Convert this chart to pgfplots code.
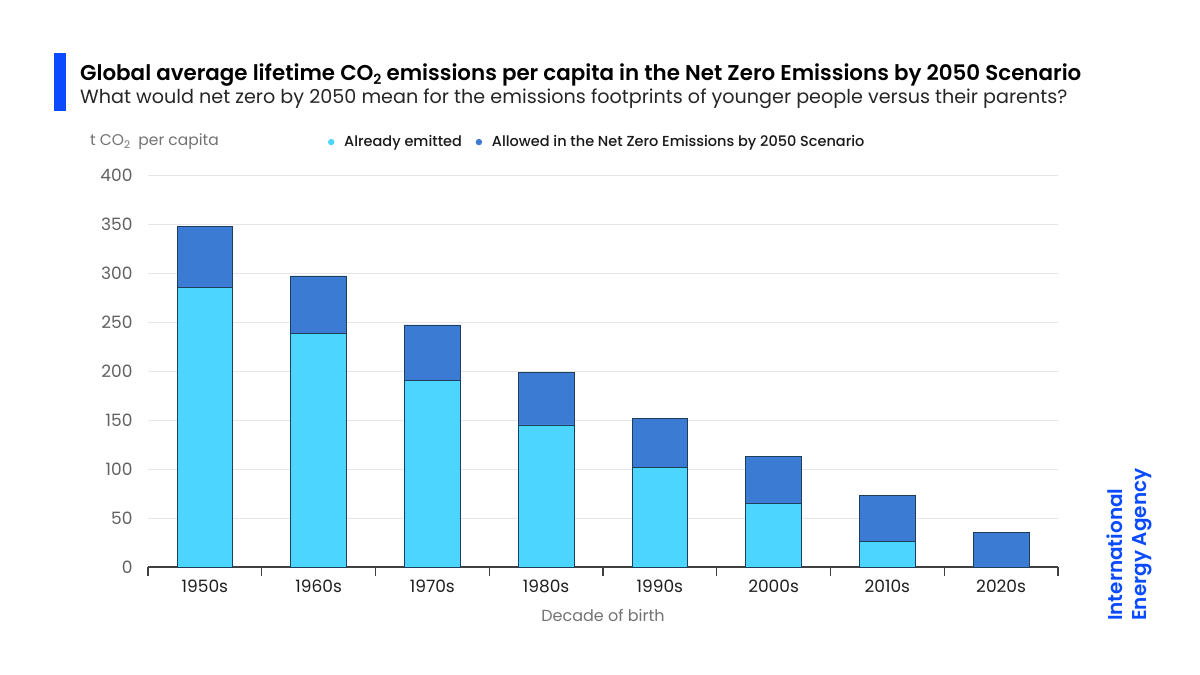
\documentclass[border=0pt]{standalone}
\usepackage{fontspec}
\setmainfont{Poppins}
\newfontfamily\medfont{Poppins Medium}
\newfontfamily\semifont{Poppins SemiBold}
\usepackage{pgfplots}
\pgfplotsset{compat=1.18}
\definecolor{lightb}{HTML}{4BD5FF}
\definecolor{darkb}{HTML}{3C7BD3}
\definecolor{edgec}{HTML}{1E3F5C}
\definecolor{ieablue}{HTML}{0A4BFF}
\definecolor{gridc}{HTML}{E6E6E6}
\newcommand{\fs}[1]{\fontsize{#1}{#1}\selectfont}
\newcommand{\subtwo}[1]{\raisebox{-0.3ex}{\fs{#1}2}}
\begin{document}
\begin{tikzpicture}[x=1pt,y=1pt]
\fill[white] (0,0) rectangle (1200,675);
\useasboundingbox (0,0) rectangle (1200,675);
% title bar
\fill[ieablue] (54,622) rectangle (66,564);
\node[anchor=base west, inner sep=0pt, text=black] at (80,594) {\fs{21.4}\semifont Global average lifetime CO\subtwo{14} emissions per capita in the Net Zero Emissions by 2050 Scenario};
\node[anchor=base west, inner sep=0pt, text=black!85] at (80,571) {\fs{19.15}What would net zero by 2050 mean for the emissions footprints of younger people versus their parents?};
\node[anchor=west, inner sep=0pt, text=black!55] at (90,533) {\fs{15.5}t CO\subtwo{10.5}\ \ per capita};
\node[anchor=center, inner sep=0pt, text=black!55] at (603,60) {\fs{16}Decade of birth};
% logo
\node[rotate=90, anchor=base west, inner sep=0pt, text=ieablue] at (1122,54) {\fs{20}\semifont International};
\node[rotate=90, anchor=base west, inner sep=0pt, text=ieablue] at (1146,54) {\fs{20}\semifont Energy Agency};
\begin{axis}[
  at={(148pt,108pt)}, anchor=south west,
  scale only axis, width=910pt, height=392pt,
  ybar stacked, bar width=0.49,
  xmin=-0.5, xmax=7.5, ymin=0, ymax=400,
  xtick={0,...,7},
  xticklabels={1950s,1960s,1970s,1980s,1990s,2000s,2010s,2020s},
  minor xtick={-0.5,0.5,...,7.5},
  ytick={0,50,...,400},
  axis x line*=bottom, axis y line*=left,
  y axis line style={draw=none},
  x axis line style={draw=black!75, line width=1.3pt, -},
  major tick length=0pt,
  minor tick length=9pt,
  tick align=outside,
  minor x tick style={draw=black!75, line width=1.2pt},
  ymajorgrids, grid style={gridc, line width=0.9pt},
  /pgf/number format/assume math mode=true,
  yticklabel style={font=\fs{17}, text=black!62, anchor=east, xshift=-12pt},
  xticklabel style={font=\fs{17}, text=black!88, yshift=-9pt},
  legend style={at={(0.1956,1.084)}, anchor=west, draw=none, fill=none,
     legend columns=2, font=\fs{14.5}\medfont, text=black!90,
     /tikz/every even column/.append style={column sep=10pt},
     inner sep=0pt},
  legend image code/.code={\path[draw=none,fill=none] (0pt,0pt) -- (16pt,0pt); \fill[#1,draw=none] (5pt,0pt) circle (3.2pt);},
  clip=false,
]
\addplot[fill=lightb, draw=edgec, line width=0.6pt] coordinates {(0,285.5) (1,238) (2,190.5) (3,145) (4,102) (5,65) (6,26.5) (7,0)};
\addplot[fill=darkb, draw=edgec, line width=0.6pt] coordinates {(0,62) (1,59) (2,56.5) (3,53.5) (4,50) (5,48) (6,46.5) (7,35)};
\legend{Already emitted, Allowed in the Net Zero Emissions by 2050 Scenario}
\end{axis}
\end{tikzpicture}
\end{document}
